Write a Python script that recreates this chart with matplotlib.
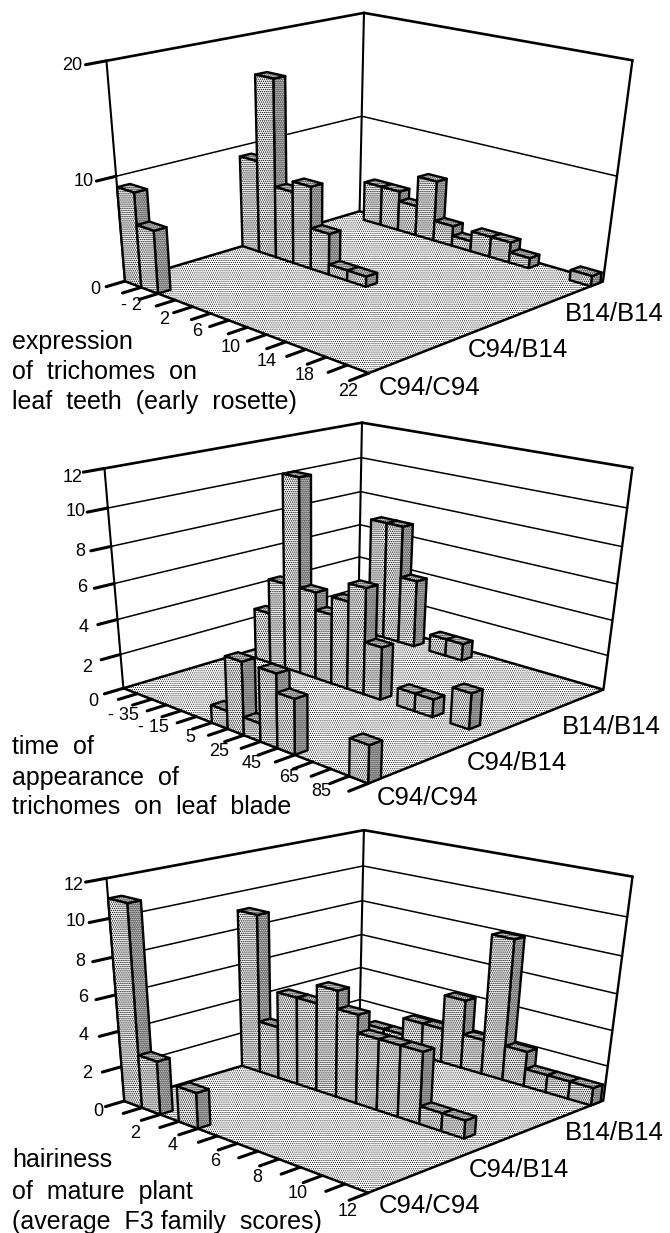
import numpy as np
import matplotlib
matplotlib.use('Agg')
import matplotlib.pyplot as plt
from matplotlib.patches import Polygon

plt.rcParams['font.family'] = ['Liberation Sans', 'DejaVu Sans']

row_names = ['C94/C94', 'C94/B14', 'B14/B14']

# panel 1: expression of trichomes on leaf teeth
teeth_cc = [9, 6, 0, 0, 0, 0, 0, 0, 0, 0, 0, 0, 0]
teeth_cb = [9, 17, 7, 8, 4, 1, 1, 0, 0, 0, 0, 0, 0]
teeth_bb = [0, 4, 4, 3, 6, 2, 1, 2, 2, 1, 0, 0, 1]
teeth_z_ticks = [0, 10, 20]
teeth_x_labels = ['- 2', '2', '6', '10', '14', '18', '22']

# panel 2: time of appearance of trichomes on leaf blade
blade_cc = [0, 0, 0, 0, 0, 0, 1, 4, 1, 4, 3, 0, 0, 0, 2]
blade_cb = [0, 3, 5, 11, 5, 4, 5, 6, 3, 0, 1, 1, 0, 2, 0]
blade_bb = [0, 0, 7, 7, 4, 0, 1, 1, 0, 0, 0, 0, 0, 0, 0]
blade_z_ticks = [0, 2, 4, 6, 8, 10, 12]
blade_x_labels = ['- 35', '- 15', '5', '25', '45', '65', '85']

# panel 3: hairiness of mature plant
hair_cc = [11, 3, 0, 2, 0, 0, 0, 0, 0, 0, 0, 0]
hair_cb = [9, 3, 5, 5, 6, 5, 4, 4, 4, 1, 1, 0]
hair_bb = [0, 1, 1, 2, 2, 4, 2, 8, 2, 1, 1, 1]
hair_z_ticks = [0, 2, 4, 6, 8, 10, 12]
hair_x_labels = ['2', '4', '6', '8', '10', '12']

panels = [
    {'rows': [teeth_cc, teeth_cb, teeth_bb], 'zmax': 20, 'zt': teeth_z_ticks, 'xl': teeth_x_labels,
     'floor': [(125, 282), (368, 373), (360, 211), (603, 281)],
     'top': [(107, 60), (363, 13), (633, 61)],
     'z_pos': [(95, 290), (84, 181), (72, 65)],
     'x_pos': [(131, 306), (164, 320), (197, 331), (231, 347), (267, 361), (305, 376), (348, 391)],
     'row_pos': [(379, 388), (468, 350), (565, 314)],
     'row_y': [0.0, 0.47, 0.94],
     'caption': ['expression', 'of  trichomes  on', 'leaf  teeth  (early  rosette)'],
     'cap_y': [342, 372, 402]},
    {'rows': [blade_cc, blade_cb, blade_bb], 'zmax': 12, 'zt': blade_z_ticks, 'xl': blade_x_labels,
     'floor': [(123, 689), (368, 783), (359, 618), (603, 690)],
     'top': [(105, 468), (361, 423), (633, 468)],
     'z_pos': [(93, 702), (87, 667), (84, 627), (82, 587), (80, 551), (76, 512), (73, 477)],
     'x_pos': [(123, 716), (153, 727), (190, 738), (219, 752), (252, 763), (289, 778), (321, 792)],
     'row_pos': [(377, 798), (467, 763), (562, 727)],
     'row_y': [0.0, 0.47, 0.91],
     'caption': ['time  of', 'appearance  of', 'trichomes  on  leaf  blade'],
     'cap_y': [747, 778, 807]},
    {'rows': [hair_cc, hair_cb, hair_bb], 'zmax': 12, 'zt': hair_z_ticks, 'xl': hair_x_labels,
     'floor': [(124, 1101), (368, 1193), (360, 1031), (603, 1100)],
     'top': [(107, 878), (363, 830), (633, 877)],
     'z_pos': [(98, 1111), (87, 1073), (84, 1036), (83, 997), (80, 962), (76, 922), (74, 885)],
     'x_pos': [(135, 1133), (173, 1145), (215, 1162), (257, 1177), (298, 1193), (348, 1212)],
     'row_pos': [(379, 1206), (469, 1170), (565, 1133)],
     'row_y': [0.0, 0.47, 0.94],
     'caption': ['hairiness', 'of  mature  plant', '(average  F3 family  scores)'],
     'cap_y': [1160, 1192, 1222]},
]


def fit_camera(floor, top):
    # least squares 3x4 projection from the box corners to picture pixels
    world = [(0, 0, 0), (1, 0, 0), (0, 1, 0), (1, 1, 0), (0, 0, 1), (0, 1, 1), (1, 1, 1)]
    pix = list(floor) + list(top)
    A, b = [], []
    for (X, Y, Z), (u, v) in zip(world, pix):
        A.append([X, Y, Z, 1, 0, 0, 0, 0, -u * X, -u * Y, -u * Z])
        A.append([0, 0, 0, 0, X, Y, Z, 1, -v * X, -v * Y, -v * Z])
        b += [u, v]
    m = np.linalg.lstsq(np.array(A, float), np.array(b, float), rcond=None)[0]
    return np.append(m, 1).reshape(3, 4)


def project(cam, X, Y, Z):
    p = cam @ np.array([X, Y, Z, 1.0])
    return p[0] / p[2], p[1] / p[2]


fig = plt.figure(figsize=(6.7, 12.33), dpi=100)
ax = fig.add_axes([0, 0, 1, 1])
ax.set_xlim(0, 670)
ax.set_ylim(1233, 0)
ax.axis('off')


def face(cam, pts, dot_lw, zo):
    xy = [project(cam, *p) for p in pts]
    plt.rcParams['hatch.linewidth'] = dot_lw
    ax.add_patch(Polygon(xy, closed=True, facecolor='white', edgecolor='black', hatch='.' * 8,
                         linewidth=1.7, joinstyle='round', zorder=zo))


def line(cam, a, b, lw, zo=2):
    pa, pb = project(cam, *a), project(cam, *b)
    ax.plot([pa[0], pb[0]], [pa[1], pb[1]], color='black', lw=lw, solid_capstyle='round', zorder=zo)


for p in panels:
    cam = fit_camera(p['floor'], p['top'])
    nbins = len(p['rows'][0])

    # floor
    xy = [project(cam, *c) for c in [(0, 0, 0), (1, 0, 0), (1, 1, 0), (0, 1, 0)]]
    plt.rcParams['hatch.linewidth'] = 0.45
    ax.add_patch(Polygon(xy, closed=True, facecolor='white', edgecolor='black', lw=0, hatch='.' * 8, zorder=1))
    ax.add_patch(Polygon(xy, closed=True, facecolor='none', edgecolor='black', lw=1.8, zorder=2))

    # walls
    for z in p['zt']:
        zf = z / p['zmax']
        lw = 1.9 if z == p['zmax'] else 1.1
        if z > 0:
            line(cam, (0, 0, zf), (0, 1, zf), lw)
            line(cam, (0, 1, zf), (1, 1, zf), lw)
        line(cam, (0, -0.07, zf), (0, 0, zf), 2.2)
    line(cam, (0, 0, 0), (0, 0, 1), 1.5)
    line(cam, (0, 1, 0), (0, 1, 1), 1.5)
    line(cam, (1, 1, 0), (1, 1, 1), 1.7)

    # x ticks
    for i in range(1, nbins + 1):
        line(cam, (i / nbins, -0.07, 0), (i / nbins, 0, 0), 2.2)

    # bars, back row first
    zo = 3.0
    for r in [2, 1, 0]:
        y0 = p['row_y'][r]
        y1 = y0 + 0.047
        for i, h in enumerate(p['rows'][r]):
            if h == 0:
                continue
            x0, x1 = i / nbins, (i + 1) / nbins
            zt = h / p['zmax']
            face(cam, [(x1, y0, 0), (x1, y1, 0), (x1, y1, zt), (x1, y0, zt)], 1.0, zo)
            face(cam, [(x0, y0, zt), (x1, y0, zt), (x1, y1, zt), (x0, y1, zt)], 0.9, zo + 0.01)
            face(cam, [(x0, y0, 0), (x1, y0, 0), (x1, y0, zt), (x0, y0, zt)], 0.68, zo + 0.02)
            zo += 0.05

    # text
    for z, pos in zip(p['zt'], p['z_pos']):
        ax.text(pos[0], pos[1], str(z), fontsize=13, ha='center', va='center', zorder=200)
    for s, pos in zip(p['xl'], p['x_pos']):
        ax.text(pos[0], pos[1], s, fontsize=13, ha='center', va='center', zorder=200)
    for s, pos in zip(row_names, p['row_pos']):
        ax.text(pos[0], pos[1], s, fontsize=18.5, ha='left', va='center', zorder=200)
    for s, yy in zip(p['caption'], p['cap_y']):
        ax.text(12, yy, s, fontsize=18, ha='left', va='center', zorder=200)

fig.savefig('out.png', dpi=100, facecolor='white')
